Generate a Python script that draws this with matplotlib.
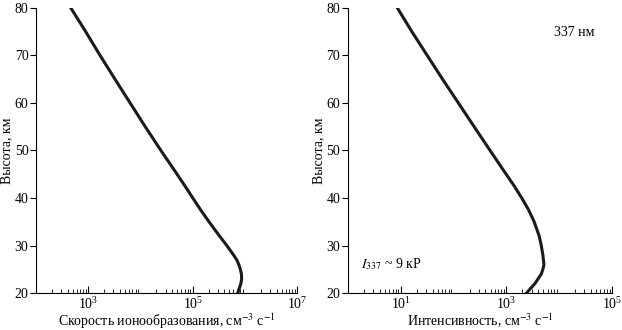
import matplotlib
matplotlib.use("Agg")
import matplotlib.pyplot as plt
import matplotlib.ticker as mticker
import numpy as np

plt.rcParams["font.family"] = ["Liberation Serif", "DejaVu Serif"]
plt.rcParams["mathtext.fontset"] = "stix"

# ── Data ───────────────────────────────────────────────────────────────────────
altitude_km = [80, 75, 70, 65, 60, 55, 50, 45, 42.5, 40, 37.5, 35, 32, 30,
               28, 27, 26, 25, 24, 23, 22, 21, 20]

# ionization rate, cm^-3 s^-1
ion_rate = [462, 891, 1.68e3, 3.24e3, 6.31e3, 1.23e4, 2.45e4, 5.0e4, 7.1e4, 1.0e5,
            1.41e5, 2.04e5, 3.24e5, 4.47e5, 6.03e5, 6.92e5, 7.59e5, 8.13e5, 8.51e5,
            8.6e5, 8.32e5, 7.76e5, 7.24e5]

# 337 nm emission intensity, cm^-3 s^-1
intensity = [8.6, 16.2, 31.6, 61.7, 123, 245, 490, 988, 1.41e3, 1.95e3,
             2.63e3, 3.35e3, 4.17e3, 4.57e3, 4.9e3, 5.01e3, 5.13e3, 4.9e3, 4.57e3,
             3.98e3, 3.47e3, 2.88e3, 2.4e3]

panels = [
    dict(x=ion_rate, xlim=(1e2, 1e7), ticks=[1e3, 1e5, 1e7],
         xlabel="Скорость ионообразования, см$^{-3}$ с$^{-1}$",
         pos=[0.058, 0.112, 0.42, 0.864]),
    dict(x=intensity, xlim=(1e0, 1e5), ticks=[1e1, 1e3, 1e5],
         xlabel="Интенсивность, см$^{-3}$ с$^{-1}$",
         pos=[0.5595, 0.112, 0.4245, 0.864]),
]

fig = plt.figure(figsize=(6.22, 3.30), dpi=100)

axes = []
for p in panels:
    ax = fig.add_axes(p["pos"])
    ax.plot(p["x"], altitude_km, color="#1a1a1a", lw=2.2, solid_joinstyle="round")
    ax.set_xscale("log")
    ax.set_xlim(*p["xlim"])
    ax.set_ylim(20, 80)
    ax.set_yticks([20, 30, 40, 50, 60, 70, 80])
    ax.xaxis.set_major_locator(mticker.FixedLocator(p["ticks"]))
    ax.xaxis.set_major_formatter(mticker.LogFormatterMathtext())
    ax.xaxis.set_minor_locator(mticker.LogLocator(base=10, subs=np.arange(2, 10), numticks=20))
    ax.xaxis.set_minor_formatter(mticker.NullFormatter())
    ax.spines["top"].set_visible(False)
    ax.spines["right"].set_visible(False)
    ax.tick_params(axis="x", which="major", direction="in", length=5, width=0.8, labelsize=10, pad=2)
    ax.tick_params(axis="x", which="minor", direction="in", length=3, width=0.6)
    ax.tick_params(axis="y", direction="out", length=4, width=0.8, labelsize=10, pad=1.5)
    ax.set_xlabel(p["xlabel"], fontsize=10, labelpad=0)
    ax.set_ylabel("Высота, км", fontsize=10, labelpad=1)
    axes.append(ax)

axes[1].text(0.78, 0.90, "337 нм", transform=axes[1].transAxes, fontsize=10)
axes[1].text(0.05, 0.10, "$I_{337}$ ~ 9 кР", transform=axes[1].transAxes, fontsize=10,
             va="center")

fig.savefig("out.png", dpi=100)
